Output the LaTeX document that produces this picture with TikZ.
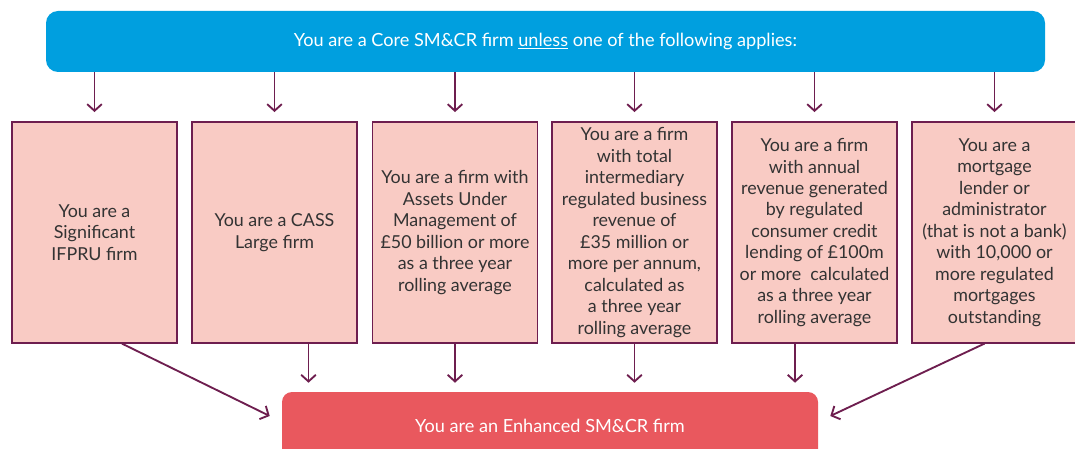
\documentclass[tikz,border=0pt]{standalone}
\usepackage{fontspec}
\setmainfont{Lato}
\usetikzlibrary{positioning, arrows.meta}

\definecolor{fcablue}{HTML}{009FDF}
\definecolor{condfill}{HTML}{F9CBC4}
\definecolor{plum}{HTML}{6E1E4F}
\definecolor{enhred}{HTML}{E9585E}

\begin{document}
\begin{tikzpicture}[
    x=0.75pt, y=-0.75pt,
    cond/.style={rectangle, draw=plum, line width=0.9pt, fill=condfill, minimum width=123.75pt, minimum height=165.75pt, align=center, font=\fontsize{13.4}{16.1}\selectfont, text=black!80},
    arrow/.style={-{Straight Barb[length=5pt, width=11pt]}, draw=plum, line width=1.4pt}
]
\useasboundingbox (0,0) rectangle (1075,449);
\clip (0,0) rectangle (1075,449);

% Top banner
\node[fill=fcablue, rounded corners=9pt, minimum width=749.25pt, minimum height=45.75pt, text=white, font=\fontsize{13.6}{16}\selectfont] (core) at (545.5,41.5) {You are a Core SM\&CR firm \underline{unless} one of the following applies:};

% Conditions
\node[cond] (c1) at (94.5,232.5) {You are a\\Significant\\IFPRU firm};
\node[cond] (c2) at (274.5,232.5) {You are a CASS\\Large firm};
\node[cond] (c3) at (455,232.5) {You are a firm with\\Assets Under\\Management of\\\pounds50 billion or more\\as a three year\\rolling average};
\node[cond] (c4) at (634.5,232.5) {You are a firm\\with total\\intermediary\\regulated business\\revenue of\\\pounds35 million or\\more per annum,\\calculated as\\a three year\\rolling average};
\node[cond] (c5) at (814.5,232.5) {You are a firm\\with annual\\revenue generated\\by regulated\\consumer credit\\lending of \pounds100m\\or more\ \ calculated\\as a three year\\rolling average};
\node[cond] (c6) at (994.5,232.5) {You are a\\mortgage\\lender or\\administrator\\(that is not a bank)\\with 10,000 or\\more regulated\\mortgages\\outstanding};

% Result
\node[fill=enhred, rounded corners=7.5pt, minimum width=402pt, minimum height=51pt, text=white, font=\fontsize{13.6}{16}\selectfont] (enh) at (550,426) {You are an Enhanced SM\&CR firm};

% Banner to conditions
\foreach \c in {c1,c2,c3,c4,c5,c6}
    \draw[arrow, shorten >=7pt] (\c.north |- core.south) -- (\c.north);

% Conditions to result
\coordinate (c2out) at ([xshift=25.5pt]c2.south);
\coordinate (c5out) at ([xshift=-14.6pt]c5.south);
\draw[arrow, shorten >=6.75pt] (c2out) -- (c2out |- enh.north);
\draw[arrow, shorten >=6.75pt] (c3.south) -- (c3.south |- enh.north);
\draw[arrow, shorten >=6.75pt] (c4.south) -- (c4.south |- enh.north);
\draw[arrow, shorten >=6.75pt] (c5out) -- (c5out |- enh.north);
\draw[arrow] ([xshift=20.6pt]c1.south) -- ([xshift=-9pt,yshift=7.5pt]enh.west);
\draw[arrow] ([xshift=-7.5pt]c6.south) -- ([xshift=9pt,yshift=7.5pt]enh.east);

\end{tikzpicture}
\end{document}
